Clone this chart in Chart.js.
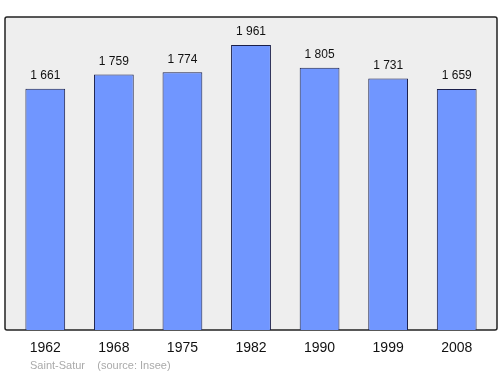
<!DOCTYPE html>
<html>
<head>
<meta charset="utf-8">
<script src="https://cdn.jsdelivr.net/npm/chart.js@4/dist/chart.umd.min.js"></script>
<style>
  html, body { margin: 0; padding: 0; background: #fff; }
  #wrap { width: 500px; height: 374px; }
</style>
</head>
<body>
<div id="wrap"><canvas id="popChart"></canvas></div>
<script>
// Population data, Saint-Satur
const years = ['1962', '1968', '1975', '1982', '1990', '1999', '2008'];
const population = [1661, 1759, 1774, 1961, 1805, 1731, 1659];
const sourceText = 'Saint-Satur    (source: Insee)';

const fontFamily = '"Liberation Sans", Arial, sans-serif';

function formatPop(value) {
  return String(value).replace(/\B(?=(\d{3})+(?!\d))/g, ' ');
}

// grey frame behind the bars, a bit wider than the chart area
const framePlugin = {
  id: 'frame',
  beforeDraw(chart) {
    const ctx = chart.ctx;
    const a = chart.chartArea;
    const x = a.left - 6, y = a.top, w = a.right - a.left + 12, h = a.bottom - a.top;
    ctx.save();
    ctx.fillStyle = '#eeeeee';
    ctx.strokeStyle = '#222222';
    ctx.lineWidth = 1.5;
    ctx.beginPath();
    ctx.roundRect(x, y, w, h, 2);
    ctx.fill();
    ctx.stroke();
    ctx.restore();
  }
};

// value labels above each bar + source line
const labelPlugin = {
  id: 'valueLabels',
  afterDatasetsDraw(chart) {
    const ctx = chart.ctx;
    const meta = chart.getDatasetMeta(0);
    ctx.save();
    ctx.font = '12px ' + fontFamily;
    ctx.fillStyle = '#111111';
    ctx.textAlign = 'center';
    ctx.textBaseline = 'bottom';
    meta.data.forEach((bar, i) => {
      ctx.fillText(formatPop(population[i]), bar.x, bar.y - 7);
    });
    ctx.font = '11px ' + fontFamily;
    ctx.fillStyle = '#aaaaaa';
    ctx.textAlign = 'left';
    ctx.textBaseline = 'middle';
    ctx.fillText(sourceText, 30, 366);
    ctx.restore();
  }
};

const ctx = document.getElementById('popChart').getContext('2d');
new Chart(ctx, {
  type: 'bar',
  data: {
    labels: years,
    datasets: [{
      data: population,
      backgroundColor: '#7096ff',
      borderColor: '#1a1f4a',
      borderWidth: 1,
      barPercentage: 0.58,
      categoryPercentage: 1.0
    }]
  },
  options: {
    responsive: true,
    maintainAspectRatio: false,
    animation: false,
    layout: {
      padding: { left: 11, right: 9, top: 17, bottom: 0 }
    },
    plugins: {
      legend: { display: false },
      tooltip: { enabled: false },
      title: { display: false }
    },
    scales: {
      x: {
        grid: { display: false, drawTicks: false },
        border: { display: false },
        ticks: {
          padding: 10,
          color: '#111111',
          font: { family: fontFamily, size: 14 }
        },
        afterFit(scale) {
          scale.height = 44;
        }
      },
      y: {
        display: false,
        min: 0,
        max: 2154
      }
    }
  },
  plugins: [framePlugin, labelPlugin]
});
</script>
</body>
</html>
